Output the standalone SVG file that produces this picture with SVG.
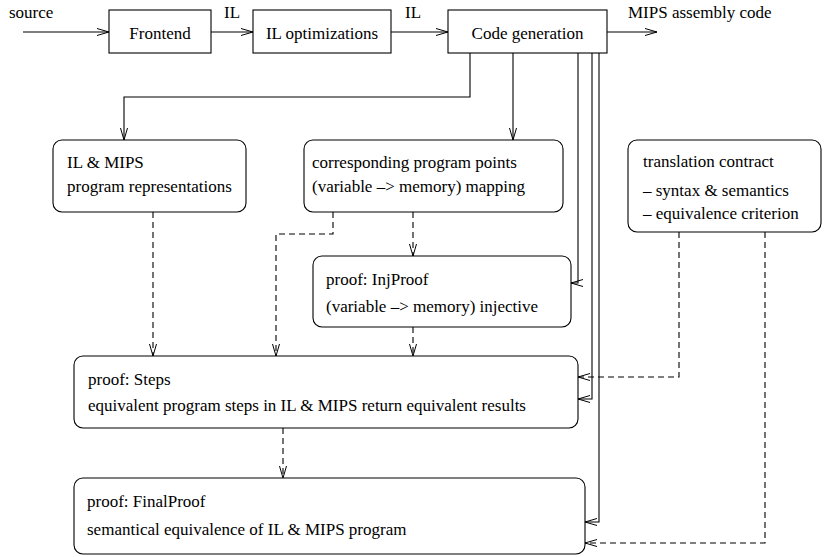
<svg xmlns="http://www.w3.org/2000/svg" width="825" height="557" viewBox="0 0 825 557">
<defs>
<marker id="arr" markerUnits="userSpaceOnUse" markerWidth="14" markerHeight="10" refX="12" refY="4" orient="auto">
<path d="M0,0.5 L12,4 L0,7.5" fill="none" stroke="#000" stroke-width="1"/>
</marker>
<style>
.box{fill:#fff;stroke:#000;stroke-width:1.1}
.t{font-family:Liberation Serif, DejaVu Serif, Times, serif;font-size:17px;fill:#000}
.c{text-anchor:middle}
.ln{fill:none;stroke:#000;stroke-width:1.1;marker-end:url(#arr)}
.d{stroke-dasharray:6,4}
</style>
</defs>
<rect width="825" height="557" fill="#fff"/>
<g id="connectors">
<path class="ln" d="M23,32 H109"/>
<path class="ln" d="M211,32 H253"/>
<path class="ln" d="M391,32 H448"/>
<path class="ln" d="M607,32 H657"/>
<path class="ln" d="M470,53 V97 H124 V140"/>
<path class="ln" d="M513,53 V140"/>
<path class="ln" d="M578,53 V283 H571"/>
<path class="ln" d="M592,53 V399 H578"/>
<path class="ln" d="M599,53 V522 H585"/>
<path class="ln d" d="M153,212 V356"/>
<path class="ln d" d="M333,212 V234 H276 V356"/>
<path class="ln d" d="M413,212 V256"/>
<path class="ln d" d="M413,327 V356"/>
<path class="ln d" d="M679,232 V377 H578"/>
<path class="ln d" d="M765,232 V543 H585"/>
<path class="ln d" d="M283,428 V478"/>
</g>
<g id="labels">
<text class="t" x="9" y="18">source</text>
<text class="t" x="224" y="18">IL</text>
<text class="t" x="405" y="18">IL</text>
<text class="t" x="628" y="18">MIPS assembly code</text>
</g>
<g id="frontend">
<rect class="box" x="109" y="10" width="102" height="43"/>
<text class="t c" x="160" y="39">Frontend</text>
</g>
<g id="ilopt">
<rect class="box" x="253" y="10" width="138" height="43"/>
<text class="t c" x="322" y="39">IL optimizations</text>
</g>
<g id="codegen">
<rect class="box" x="448" y="10" width="159" height="43"/>
<text class="t c" x="527.5" y="39">Code generation</text>
</g>
<g id="ilmips">
<rect class="box" x="53" y="140" width="193" height="72" rx="9"/>
<text class="t" x="67" y="168">IL &amp; MIPS</text>
<text class="t" x="67" y="192">program representations</text>
</g>
<g id="corresponding">
<rect class="box" x="304" y="140" width="259" height="72" rx="9"/>
<text class="t" x="312" y="168">corresponding program points</text>
<text class="t" x="312" y="192">(variable –&gt; memory) mapping</text>
</g>
<g id="contract">
<rect class="box" x="628" y="140" width="193" height="92" rx="9"/>
<text class="t" x="643" y="167">translation contract</text>
<text class="t" x="643" y="196">– syntax &amp; semantics</text>
<text class="t" x="643" y="219">– equivalence criterion</text>
</g>
<g id="injproof">
<rect class="box" x="313" y="256" width="258" height="71" rx="9"/>
<text class="t" x="326" y="285">proof: InjProof</text>
<text class="t" x="326" y="312">(variable –&gt; memory) injective</text>
</g>
<g id="steps">
<rect class="box" x="74" y="356" width="504" height="72" rx="9"/>
<text class="t" x="88" y="385">proof: Steps</text>
<text class="t" x="88" y="411">equivalent program steps in IL &amp; MIPS return equivalent results</text>
</g>
<g id="finalproof">
<rect class="box" x="74" y="478" width="511" height="76" rx="9"/>
<text class="t" x="87" y="507">proof: FinalProof</text>
<text class="t" x="87" y="535">semantical equivalence of IL &amp; MIPS program</text>
</g>
</svg>
